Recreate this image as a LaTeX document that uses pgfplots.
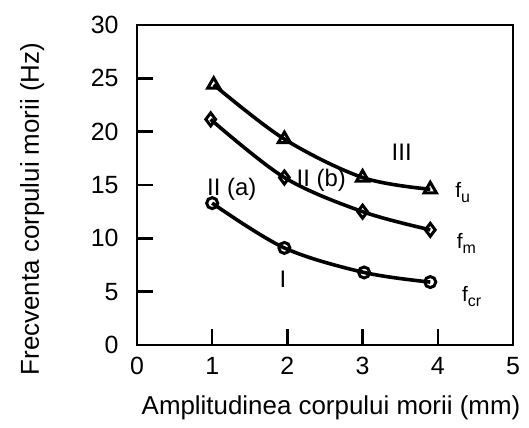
\documentclass[border=0pt]{standalone}
\usepackage{fontspec}
\setmainfont{Liberation Sans}
\usepackage{pgfplots}
\pgfplotsset{compat=1.18}
\begin{document}
\begin{tikzpicture}
\useasboundingbox (-137bp,-83bp) rectangle (392bp,345bp);
\begin{axis}[at={(0,0)}, anchor=south west, scale only axis,
 width=376bp, height=320bp,
 xmin=0, xmax=5, ymin=0, ymax=30,
 xtick={0,1,2,3,4,5}, ytick={0,5,10,15,20,25,30},
 xtick pos=bottom, ytick pos=left,
 xtick align=inside, ytick align=inside,
 major tick length=16bp,
 every tick/.append style={draw=black, line width=2.4bp},
 axis line style={line width=2bp},
 /pgf/number format/assume math mode=true,
 ticklabel style={font=\fontsize{25}{28}\selectfont},
 yticklabel style={xshift=-15bp},
 xticklabel style={yshift=-9bp},
 xlabel={Amplitudinea corpului morii (mm)},
 ylabel={Frecventa corpului morii (Hz)},
 label style={font=\fontsize{26}{30}\selectfont},
 xlabel style={at={(axis description cs:0.516,-0.197)}, anchor=center},
 ylabel style={at={(axis description cs:-0.279,0.425)}, anchor=center},
 clip=false]
\addplot[black, line width=3.6bp, smooth, tension=0.55, mark=triangle, mark size=7bp, mark options={solid, fill=white, line width=3bp}]
 coordinates {(1.02,24.4) (1.96,19.3) (3.0,15.7) (3.9,14.6)};
\addplot[black, line width=3.6bp, smooth, tension=0.55, mark=diamond, mark size=6.5bp, mark options={solid, fill=white, line width=3bp}]
 coordinates {(0.98,21.15) (1.96,15.7) (3.0,12.5) (3.9,10.8)};
\addplot[black, line width=3.6bp, smooth, tension=0.55, mark=o, mark size=5.5bp, mark options={solid, fill=white, line width=3bp}]
 coordinates {(1.0,13.3) (1.96,9.1) (3.02,6.8) (3.9,5.9)};
\node[font=\fontsize{24}{28}\selectfont] at (axis cs:1.26,14.6) {II (a)};
\node[font=\fontsize{24}{28}\selectfont] at (axis cs:2.45,15.4) {II (b)};
\node[font=\fontsize{24}{28}\selectfont] at (axis cs:3.52,18.1) {III};
\node[font=\fontsize{24}{28}\selectfont] at (axis cs:1.94,6.2) {I};
\node[anchor=west, inner sep=0pt, font=\fontsize{21}{24}\selectfont] at (axis cs:4.23,14.25) {f\raisebox{-5bp}{\fontsize{16}{18}\selectfont u}};
\node[anchor=west, inner sep=0pt, font=\fontsize{21}{24}\selectfont] at (axis cs:4.25,9.56) {f\raisebox{-5bp}{\fontsize{16}{18}\selectfont m}};
\node[anchor=west, inner sep=0pt, font=\fontsize{21}{24}\selectfont] at (axis cs:4.32,4.5) {f\raisebox{-5bp}{\fontsize{16}{18}\selectfont cr}};
\end{axis}
\end{tikzpicture}
\end{document}
